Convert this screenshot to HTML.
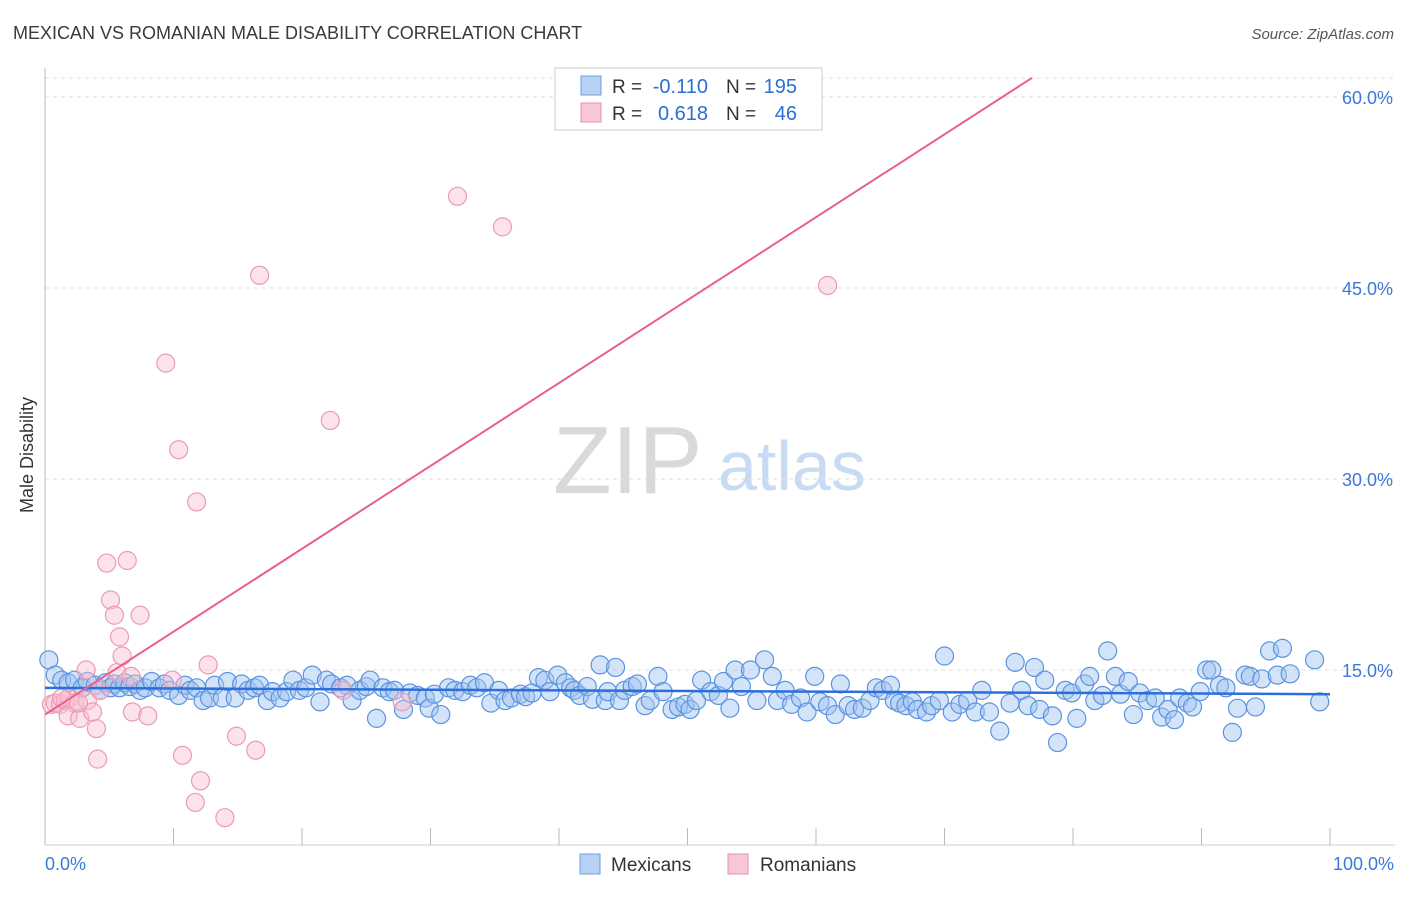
<!DOCTYPE html>
<html><head><meta charset="utf-8"><style>
body{margin:0;background:#fff;font-family:"Liberation Sans",sans-serif}
svg text{font-family:"Liberation Sans",sans-serif}
</style></head><body>
<svg id="chart" width="1406" height="892" xmlns="http://www.w3.org/2000/svg">
<text x="13" y="39" font-size="18" fill="#3a3a3a">MEXICAN VS ROMANIAN MALE DISABILITY CORRELATION CHART</text>
<text x="1394" y="39" font-size="15" fill="#555" font-style="italic" text-anchor="end">Source: ZipAtlas.com</text>
<g>
<text x="553" y="493" font-size="96" font-family="Liberation Serif" fill="#d9d9d9">ZIP</text>
<text x="718" y="490" font-size="70" fill="#c9dbf2">atlas</text>
</g>
<g id="grid"></g>
<g id="axes"></g>
<g id="pts"></g>
<g id="trend"></g>
<text transform="translate(33,455) rotate(-90)" font-size="18" fill="#333" text-anchor="middle">Male Disability</text>
<g>
<rect x="555" y="68" width="267" height="62" fill="#fff" stroke="#ccc"/>
<rect x="581" y="76" width="20" height="19" fill="#b8d2f5" stroke="#6a9fe0"/>
<rect x="581" y="103" width="20" height="19" fill="#f8c7d6" stroke="#ea8fae"/>
<text x="612" y="93" font-size="19" fill="#333">R =</text>
<text x="708" y="93" font-size="20" fill="#2b6fd6" text-anchor="end">-0.110</text>
<text x="726" y="93" font-size="19" fill="#333">N =</text>
<text x="797" y="93" font-size="20" fill="#2b6fd6" text-anchor="end">195</text>
<text x="612" y="120" font-size="19" fill="#333">R =</text>
<text x="708" y="120" font-size="20" fill="#2b6fd6" text-anchor="end">0.618</text>
<text x="726" y="120" font-size="19" fill="#333">N =</text>
<text x="797" y="120" font-size="20" fill="#2b6fd6" text-anchor="end">46</text>
</g>
<g>
<rect x="580" y="854" width="20" height="20" fill="#b8d2f5" stroke="#6a9fe0"/>
<text x="611" y="871" font-size="19" fill="#333">Mexicans</text>
<rect x="728" y="854" width="20" height="20" fill="#f8c7d6" stroke="#ea8fae"/>
<text x="760" y="871" font-size="19" fill="#333">Romanians</text>
</g>
</svg>
<script>
const yTicks=[15,30,45,60];
const yTickLabels=["15.0%","30.0%","45.0%","60.0%"];
const xTickLabels=["0.0%","100.0%"];
const blueX=[0.3,0.8,1.3,1.8,2.3,2.9,3.3,3.9,4.3,4.7,5.1,5.4,5.8,6.2,6.6,7.0,7.4,7.8,8.3,8.9,9.3,9.7,10.4,10.9,11.3,11.8,12.3,12.8,13.2,13.8,14.2,14.8,15.3,15.8,16.3,16.7,17.3,17.7,18.3,18.8,19.3,19.8,20.3,20.8,21.4,21.9,22.3,23.0,23.5,23.9,24.5,25.0,25.3,25.8,26.3,26.8,27.2,27.9,28.4,29.0,29.6,29.9,30.3,30.8,31.4,31.9,32.5,33.1,33.6,34.2,34.7,35.3,35.8,36.3,37.0,37.4,37.9,38.4,38.9,39.3,39.9,40.5,40.9,41.2,41.6,42.2,42.6,43.2,43.6,43.8,44.4,44.7,45.1,45.7,46.1,46.7,47.1,47.7,48.1,48.8,49.3,49.8,50.2,50.7,51.1,51.8,52.4,52.8,53.3,53.7,54.2,54.9,55.4,56.0,56.6,57.0,57.6,58.1,58.8,59.3,59.9,60.3,60.9,61.5,61.9,62.5,63.0,63.6,64.2,64.7,65.2,65.8,66.1,66.5,67.0,67.5,67.9,68.6,69.0,69.6,70.0,70.6,71.2,71.8,72.4,72.9,73.5,74.3,75.1,75.5,76.0,76.5,77.0,77.4,77.8,78.4,78.8,79.4,79.9,80.3,80.9,81.3,81.7,82.3,82.7,83.3,83.7,84.3,84.7,85.2,85.8,86.4,86.9,87.4,87.9,88.3,88.9,89.3,89.9,90.4,90.8,91.4,91.9,92.4,92.8,93.4,93.8,94.2,94.7,95.3,95.9,96.3,96.9,98.8,99.2];
const blueY=[15.8,14.6,14.2,14.0,14.2,13.6,14.1,13.8,13.4,14.0,13.6,13.9,13.6,14.0,13.7,13.9,13.4,13.6,14.1,13.6,13.9,13.4,13.0,13.8,13.4,13.6,12.6,12.8,13.8,12.8,14.1,12.8,13.9,13.4,13.6,13.8,12.6,13.3,12.8,13.3,14.2,13.4,13.6,14.6,12.5,14.2,13.9,13.6,13.8,12.6,13.4,13.7,14.2,11.2,13.6,13.3,13.4,11.9,13.2,13.0,12.8,12.0,13.1,11.5,13.6,13.4,13.3,13.8,13.6,14.0,12.4,13.4,12.6,12.8,13.1,12.9,13.2,14.4,14.2,13.3,14.6,14.0,13.6,13.4,13.0,13.7,12.7,15.4,12.6,13.3,15.2,12.6,13.4,13.7,13.9,12.2,12.6,14.5,13.3,11.9,12.1,12.3,11.9,12.6,14.2,13.3,13.0,14.1,12.0,15.0,13.7,15.0,12.6,15.8,14.5,12.6,13.4,12.3,12.8,11.7,14.5,12.5,12.2,11.5,13.9,12.2,11.9,12.0,12.6,13.6,13.4,13.8,12.6,12.4,12.2,12.5,11.9,11.7,12.2,12.6,16.1,11.7,12.3,12.6,11.7,13.4,11.7,10.2,12.4,15.6,13.4,12.2,15.2,11.9,14.2,11.4,9.3,13.4,13.2,11.2,13.9,14.5,12.6,13.0,16.5,14.5,13.1,14.1,11.5,13.2,12.6,12.8,11.3,11.9,11.1,12.8,12.4,12.1,13.3,15.0,15.0,13.8,13.6,10.1,12.0,14.6,14.5,12.1,14.3,16.5,14.6,16.7,14.7,15.8,12.5];
const pinkX=[0.5,0.8,1.2,1.6,1.9,2.3,1.8,2.7,3.3,3.2,5.6,6.7,4.0,4.1,4.8,6.4,5.1,5.4,7.4,5.8,6.0,6.8,8.0,9.4,9.9,10.4,10.7,11.8,12.1,11.7,12.7,14.0,14.9,16.4,16.7,22.2,23.2,27.8,32.1,35.6,60.9,3.7,2.6,4.3,1.3];
const pinkY=[12.3,12.4,12.3,12.6,12.8,12.4,11.4,11.2,12.6,15.0,14.8,14.5,10.4,8.0,23.4,23.6,20.5,19.3,19.3,17.6,16.1,11.7,11.4,39.1,14.2,32.3,8.3,28.2,6.3,4.6,15.4,3.4,9.8,8.7,46.0,34.6,13.4,12.5,52.2,49.8,45.2,11.7,12.4,13.4,12.8];
const blueTrend=[13.6,13.1];
const pinkTrend={intercept:11.5,slope:0.651};
const NS="http://www.w3.org/2000/svg";
const X0=45,X1=1330,Y0=861,PXY=12.733;
const sx=v=>X0+(X1-X0)*v/100;
const sy=v=>Y0-v*PXY;
function mk(tag,attrs,parent){const e=document.createElementNS(NS,tag);for(const k in attrs)e.setAttribute(k,attrs[k]);parent.appendChild(e);return e;}
const grid=document.getElementById('grid'),axes=document.getElementById('axes'),pts=document.getElementById('pts'),trend=document.getElementById('trend');
mk('line',{x1:45,x2:1395,y1:78,y2:78,stroke:'#ddd','stroke-dasharray':'4 4'},grid);
yTicks.forEach((t,i)=>{
 const l=mk('line',{x1:45,x2:1395,y1:sy(t),y2:sy(t),stroke:'#ddd','stroke-dasharray':'4 4'},grid);
 
 
 const tx=mk('text',{x:1393,y:sy(t)+7,'font-size':18,fill:'#3b78d8','text-anchor':'end'},axes);
 tx.textContent=yTickLabels[i];
 
 
});
mk('line',{x1:45,x2:45,y1:68,y2:845,stroke:'#bbb'},axes);
mk('line',{x1:45,x2:1395,y1:845,y2:845,stroke:'#ccc'},axes);
for(let k=1;k<=10;k++){const x=sx(k*10);mk('line',{x1:x,x2:x,y1:828,y2:845,stroke:'#bbb'},axes);}
[0,100].forEach((v,i)=>{
 const tx=mk('text',{x:i?1394:45,y:870,'font-size':18,fill:'#3b78d8','text-anchor':i?'end':'start'},axes);
 tx.textContent=xTickLabels[i];
 
 
});
blueX.forEach((x,i)=>{
 const c=mk('circle',{cx:sx(x),cy:sy(blueY[i]),r:9,fill:'rgba(160,195,240,0.45)',stroke:'#5b93e0','stroke-width':1.2},pts);
 
 
});
pinkX.forEach((x,i)=>{
 const c=mk('circle',{cx:sx(x),cy:sy(pinkY[i]),r:9,fill:'rgba(248,190,208,0.45)',stroke:'#ec9ab5','stroke-width':1.2},pts);
 
 
});
const bl=mk('line',{x1:sx(0),x2:sx(100),y1:sy(blueTrend[0]),y2:sy(blueTrend[1]),stroke:'#2a6fdb','stroke-width':2.5},trend);


const yTop=61.5,xEnd=(yTop-pinkTrend.intercept)/pinkTrend.slope;
const pl=mk('line',{x1:sx(0),x2:sx(xEnd),y1:sy(pinkTrend.intercept),y2:sy(yTop),stroke:'#e8608c','stroke-width':2},trend);


</script>
</body></html>
